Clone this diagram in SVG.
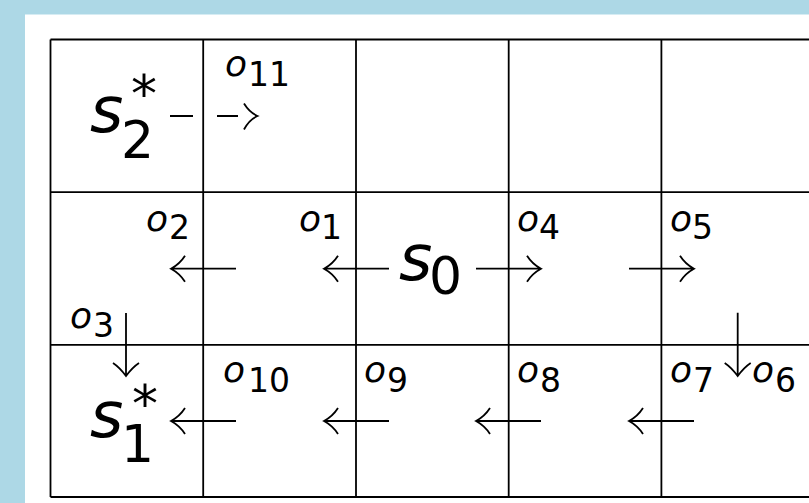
<svg xmlns="http://www.w3.org/2000/svg" width="809" height="503" viewBox="0 0 809 503">
<style>
.grid{stroke:#000;stroke-width:1.8;fill:none}
.ar{stroke:#000;stroke-width:1.8;fill:none;stroke-linecap:butt}
.t{font-family:"DejaVu Sans",sans-serif;fill:#000}
.s{font-style:italic;font-size:64px}
.sub{font-style:normal;font-size:52px}
.o{font-style:italic;font-size:36px}
.on{font-style:normal;font-size:33px}
</style>
<rect x="0" y="0" width="809" height="503" fill="#ADD8E6"/>
<rect x="25" y="14.5" width="784" height="488.5" fill="#fff"/>
<g id="grid" class="grid">
<line x1="50.5" y1="39.5" x2="809" y2="39.5"/>
<line x1="50.5" y1="192.2" x2="809" y2="192.2"/>
<line x1="50.5" y1="344.9" x2="809" y2="344.9"/>
<line x1="50.5" y1="497" x2="809" y2="497"/>
<line x1="50.5" y1="39.5" x2="50.5" y2="497"/>
<line x1="203.2" y1="39.5" x2="203.2" y2="497"/>
<line x1="356" y1="39.5" x2="356" y2="497"/>
<line x1="508.7" y1="39.5" x2="508.7" y2="497"/>
<line x1="661.4" y1="39.5" x2="661.4" y2="497"/>
</g>
<g id="s2star"><text class="t"><tspan class="s" x="90" y="132">s</tspan><tspan class="sub" x="121" y="158">2</tspan><tspan class="sub" x="131" y="112">*</tspan></text></g>
<g id="s0"><text class="t"><tspan class="s" x="399" y="280">s</tspan><tspan class="sub" x="429" y="294">0</tspan></text></g>
<g id="s1star"><text class="t"><tspan class="s" x="90" y="437">s</tspan><tspan class="sub" x="121" y="462">1</tspan><tspan class="sub" x="132" y="422">*</tspan></text></g>
<g id="connectors">
<path class="ar" d="M170,116 H193 M217,116 H238 M244,103.5 C248,110 253,114 257.5,116 C253,118 248,122 244,129.5"/>
<path class="ar" d="M236,268.7 H172 M185,255.7 C181,262 176,266 171,268.7 C176,271.4 181,275.4 185,281.7"/>
<path class="ar" d="M389,268.7 H325 M338,255.7 C334,262 329,266 324,268.7 C329,271.4 334,275.4 338,281.7"/>
<path class="ar" d="M476,268.7 H540 M527,255.7 C531,262 536,266 541,268.7 C536,271.4 531,275.4 527,281.7"/>
<path class="ar" d="M629,268.7 H693 M680,255.7 C684,262 689,266 694,268.7 C689,271.4 684,275.4 680,281.7"/>
<path class="ar" d="M126,313 V375 M113,363 C119,367 123,372 126,376 C129,372 133,367 139,363"/>
<path class="ar" d="M737.7,312.7 V375 M724.7,363 C730.7,367 734.7,372 737.7,376 C740.7,372 744.7,367 750.7,363"/>
<path class="ar" d="M236,421 H172 M185,408 C181,414.3 176,418.3 171,421 C176,423.7 181,427.7 185,434"/>
<path class="ar" d="M389,421 H325 M338,408 C334,414.3 329,418.3 324,421 C329,423.7 334,427.7 338,434"/>
<path class="ar" d="M541,421 H477 M490,408 C486,414.3 481,418.3 476,421 C481,423.7 486,427.7 490,434"/>
<path class="ar" d="M694,421 H630 M643,408 C639,414.3 634,418.3 629,421 C634,423.7 639,427.7 643,434"/>
</g>
<g id="labels">
<g id="o11"><text class="t"><tspan class="o" x="225" y="76">o</tspan><tspan class="on" x="248" y="86">11</tspan></text></g>
<g id="o2"><text class="t"><tspan class="o" x="146" y="231">o</tspan><tspan class="on" x="169" y="239">2</tspan></text></g>
<g id="o1"><text class="t"><tspan class="o" x="299" y="231">o</tspan><tspan class="on" x="321" y="239">1</tspan></text></g>
<g id="o4"><text class="t"><tspan class="o" x="517" y="231">o</tspan><tspan class="on" x="539" y="239">4</tspan></text></g>
<g id="o5"><text class="t"><tspan class="o" x="670" y="231">o</tspan><tspan class="on" x="692" y="239">5</tspan></text></g>
<g id="o3"><text class="t"><tspan class="o" x="70" y="328">o</tspan><tspan class="on" x="93" y="337">3</tspan></text></g>
<g id="o10"><text class="t"><tspan class="o" x="223" y="382">o</tspan><tspan class="on" x="248" y="392">10</tspan></text></g>
<g id="o9"><text class="t"><tspan class="o" x="364" y="382">o</tspan><tspan class="on" x="387" y="392">9</tspan></text></g>
<g id="o8"><text class="t"><tspan class="o" x="517" y="382">o</tspan><tspan class="on" x="540" y="392">8</tspan></text></g>
<g id="o7"><text class="t"><tspan class="o" x="670" y="382">o</tspan><tspan class="on" x="693" y="392">7</tspan></text></g>
<g id="o6"><text class="t"><tspan class="o" x="752" y="382">o</tspan><tspan class="on" x="775" y="392">6</tspan></text></g>
</g>
</svg>
